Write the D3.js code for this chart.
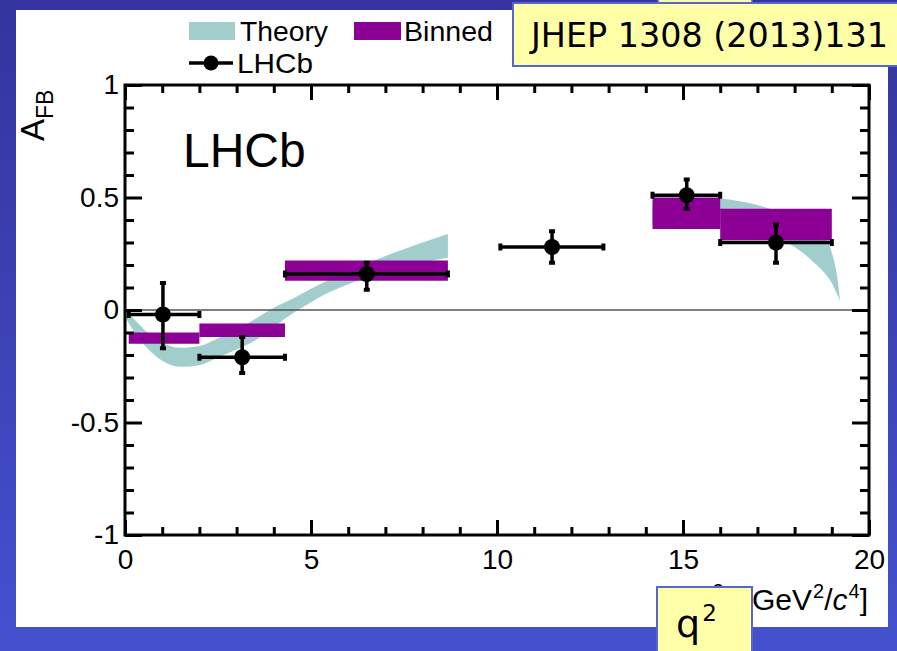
<!DOCTYPE html>
<html><head><meta charset="utf-8">
<script src="https://cdn.jsdelivr.net/npm/d3@7"></script>
<style>body{margin:0;overflow:hidden;background:#3a3ca6}</style>
</head><body>
<svg id="c" width="897" height="651"></svg>
<script>
// Measured forward-backward asymmetry per q² bin
const binLo = [0.1, 2.0, 4.3, 10.09, 14.18, 16.0];
const binHi = [2.0, 4.3, 8.68, 12.86, 16.0, 19.0];
const qMean = [1.02, 3.15, 6.5, 11.48, 15.1, 17.5];
const afb   = [-0.02, -0.21, 0.16, 0.28, 0.51, 0.30];
const errUp = [0.14, 0.09, 0.05, 0.07, 0.07, 0.08];
const errDn = [0.15, 0.07, 0.07, 0.07, 0.06, 0.09];

// Binned SM prediction (lower / upper edge of each bin)
const predLo  = [0.1, 2.0, 4.3, 14.18, 16.0];
const predHi  = [2.0, 4.3, 8.68, 16.0, 19.0];
const predMin = [-0.15, -0.12, 0.13, 0.36, 0.31];
const predMax = [-0.10, -0.06, 0.22, 0.50, 0.45];

// SM theory band below the charmonium region
const thLowQ   = [0.0, 0.3, 0.6, 1.0, 1.5, 2.0, 2.5, 3.0, 3.5, 4.0, 4.5, 5.0, 5.5, 6.0, 6.5, 7.0, 7.5, 8.0, 8.68];
const thLowMin = [-0.03, -0.11, -0.17, -0.225, -0.252, -0.245, -0.21, -0.175, -0.135, -0.075, -0.015, 0.035, 0.08, 0.115, 0.145, 0.17, 0.19, 0.21, 0.232];
const thLowMax = [0.0, -0.05, -0.10, -0.145, -0.168, -0.16, -0.125, -0.085, -0.04, 0.01, 0.05, 0.095, 0.135, 0.17, 0.205, 0.24, 0.27, 0.30, 0.338];

// SM theory band above the charmonium region
const thHighQ   = [14.18, 15.0, 16.0, 16.5, 17.0, 17.5, 18.0, 18.5, 18.9, 19.0, 19.1, 19.17, 19.22];
const thHighMin = [0.38, 0.39, 0.39, 0.375, 0.355, 0.325, 0.28, 0.215, 0.145, 0.12, 0.085, 0.06, 0.04];
const thHighMax = [0.47, 0.485, 0.495, 0.485, 0.467, 0.44, 0.40, 0.35, 0.30, 0.255, 0.19, 0.12, 0.04];

// Axis ticks
const xMajor = [0, 5, 10, 15, 20];
const yMajor = [-1, -0.5, 0, 0.5, 1];

const TEAL = "#a2cdcd", PURPLE = "#8c0096";
const SANS = "'Liberation Sans', Arial, Helvetica, sans-serif";
const SLIDE = "'DejaVu Sans', Verdana, Tahoma, sans-serif";

const svg = d3.select("#c");

// slide background
const defs = svg.append("defs");
const grad = defs.append("linearGradient").attr("id", "bg").attr("x1", 0).attr("y1", 0).attr("x2", 0).attr("y2", 1);
grad.append("stop").attr("offset", "0%").attr("stop-color", "#34349c");
grad.append("stop").attr("offset", "100%").attr("stop-color", "#4451cf");
svg.append("rect").attr("width", 897).attr("height", 651).attr("fill", "url(#bg)");
svg.append("rect").attr("x", 16).attr("y", 10).attr("width", 872).attr("height", 617).attr("fill", "#fff");

const x = d3.scaleLinear().domain([0, 20]).range([125, 869]);
const y = d3.scaleLinear().domain([-1, 1]).range([535, 85]);

// theory bands
const band = d3.area().curve(d3.curveMonotoneX)
  .x(d => x(d[0])).y0(d => y(d[1])).y1(d => y(d[2]));
const lowBand = thLowQ.map((q, i) => [q, thLowMin[i], thLowMax[i]]);
const highBand = thHighQ.map((q, i) => [q, thHighMin[i], thHighMax[i]]);
svg.append("path").attr("d", band(lowBand)).attr("fill", TEAL);
svg.append("path").attr("d", band(highBand)).attr("fill", TEAL);

// binned prediction boxes
svg.append("g").selectAll("rect").data(predLo).join("rect")
  .attr("x", (d, i) => x(predLo[i]))
  .attr("width", (d, i) => x(predHi[i]) - x(predLo[i]))
  .attr("y", (d, i) => y(predMax[i]))
  .attr("height", (d, i) => y(predMin[i]) - y(predMax[i]))
  .attr("fill", PURPLE);

// zero line
svg.append("line").attr("x1", x(0)).attr("x2", x(20)).attr("y1", y(0)).attr("y2", y(0))
  .attr("stroke", "#555").attr("stroke-width", 1.6);

// data points with error bars
const pts = svg.append("g");
afb.forEach((v, i) => {
  const cx = x(qMean[i]), cy = y(v);
  const xl = x(binLo[i]), xr = x(binHi[i]);
  const yt = y(v + errUp[i]), yb = y(v - errDn[i]);
  pts.append("line").attr("x1", xl).attr("x2", xr).attr("y1", cy).attr("y2", cy)
    .attr("stroke", "#000").attr("stroke-width", 3.5);
  pts.append("line").attr("x1", cx).attr("x2", cx).attr("y1", yt).attr("y2", yb)
    .attr("stroke", "#000").attr("stroke-width", 3.5);
  // end caps
  [xl, xr].forEach(px => pts.append("rect").attr("x", px - 2).attr("y", cy - 3.5).attr("width", 4).attr("height", 7));
  [yt, yb].forEach(py => pts.append("rect").attr("x", cx - 3).attr("y", py - 2).attr("width", 6).attr("height", 4));
  pts.append("circle").attr("cx", cx).attr("cy", cy).attr("r", 8).attr("fill", "#000");
});

// axes
const fr = svg.append("g").attr("font-family", SANS);
function styleAxis(g) {
  g.select(".domain").remove();
  g.selectAll("line").attr("stroke", "#000").attr("stroke-width", 3);
  g.selectAll("text").attr("font-family", SANS).attr("font-size", 28).attr("fill", "#000");
}
const xMinor = d3.range(0, 21).filter(v => v % 5 !== 0);
const yMinor = d3.range(-10, 11).map(v => v / 10).filter(v => Math.abs(v * 2 - Math.round(v * 2)) > 1e-6);

fr.append("g").attr("transform", `translate(0,${y(-1)})`)
  .call(d3.axisBottom(x).tickValues(xMajor).tickSize(-15).tickPadding(14).tickFormat(d => String(d))).call(styleAxis);
fr.append("g").attr("transform", `translate(0,${y(-1)})`)
  .call(d3.axisBottom(x).tickValues(xMinor).tickSize(-8).tickFormat("")).call(styleAxis);
fr.append("g").attr("transform", `translate(0,${y(1)})`)
  .call(d3.axisTop(x).tickValues(xMajor).tickSize(-15).tickFormat("")).call(styleAxis);
fr.append("g").attr("transform", `translate(0,${y(1)})`)
  .call(d3.axisTop(x).tickValues(xMinor).tickSize(-8).tickFormat("")).call(styleAxis);
fr.append("g").attr("transform", `translate(${x(0)},0)`)
  .call(d3.axisLeft(y).tickValues(yMajor).tickSize(-17).tickPadding(6).tickFormat(d => String(d))).call(styleAxis);
fr.append("g").attr("transform", `translate(${x(0)},0)`)
  .call(d3.axisLeft(y).tickValues(yMinor).tickSize(-9).tickFormat("")).call(styleAxis);
fr.append("g").attr("transform", `translate(${x(20)},0)`)
  .call(d3.axisRight(y).tickValues(yMajor).tickSize(-17).tickFormat("")).call(styleAxis);
fr.append("g").attr("transform", `translate(${x(20)},0)`)
  .call(d3.axisRight(y).tickValues(yMinor).tickSize(-9).tickFormat("")).call(styleAxis);

fr.append("rect").attr("x", x(0)).attr("y", y(1)).attr("width", x(20) - x(0)).attr("height", y(-1) - y(1))
  .attr("fill", "none").attr("stroke", "#000").attr("stroke-width", 3);

// axis titles
const yt = svg.append("text").attr("transform", "translate(44,141) rotate(-90)")
  .attr("font-family", SANS).attr("font-size", 33).attr("fill", "#000");
yt.append("tspan").text("A");
yt.append("tspan").attr("font-size", 23).attr("dy", 9).text("FB");

const xt = svg.append("text").attr("x", 868).attr("y", 610).attr("text-anchor", "end")
  .attr("font-family", SANS).attr("font-size", 30).attr("fill", "#000");
xt.append("tspan").text("q");
xt.append("tspan").attr("font-size", 20).attr("dy", -12).attr("dx", 2).text("2");
xt.append("tspan").attr("dy", 12).attr("dx", 20).text("[GeV");
xt.append("tspan").attr("font-size", 20).attr("dy", -12).attr("dx", 1).text("2");
xt.append("tspan").attr("dy", 12).text("/");
xt.append("tspan").attr("font-style", "italic").text("c");
xt.append("tspan").attr("font-size", 20).attr("dy", -12).attr("dx", 1).text("4");
xt.append("tspan").attr("dy", 12).text("]");

// experiment label
svg.append("text").attr("x", 183).attr("y", 167).attr("font-family", SANS)
  .attr("font-size", 48).attr("fill", "#000").text("LHCb");

// legend
const lg = svg.append("g").attr("font-family", SANS).attr("font-size", 28).attr("fill", "#000");
lg.append("rect").attr("x", 189).attr("y", 22).attr("width", 46).attr("height", 18).attr("fill", TEAL);
lg.append("text").attr("x", 240).attr("y", 41).attr("textLength", 88).attr("lengthAdjust", "spacingAndGlyphs").text("Theory");
lg.append("rect").attr("x", 354).attr("y", 22).attr("width", 47).attr("height", 18).attr("fill", PURPLE);
lg.append("text").attr("x", 404).attr("y", 41).attr("textLength", 89).attr("lengthAdjust", "spacingAndGlyphs").text("Binned");
lg.append("line").attr("x1", 189).attr("x2", 233).attr("y1", 63).attr("y2", 63).attr("stroke", "#000").attr("stroke-width", 3.5);
lg.append("circle").attr("cx", 211).attr("cy", 63).attr("r", 7.5).attr("fill", "#000");
lg.append("text").attr("x", 237).attr("y", 73).attr("textLength", 76).attr("lengthAdjust", "spacingAndGlyphs").text("LHCb");

// slide annotations
svg.append("rect").attr("x", 658).attr("y", -10).attr("width", 94).attr("height", 13)
  .attr("fill", "#ffffa8").attr("stroke", "#5566cc").attr("stroke-width", 1.5);
svg.append("rect").attr("x", 513).attr("y", 3).attr("width", 400).attr("height", 63)
  .attr("fill", "#ffffa8").attr("stroke", "#5566cc").attr("stroke-width", 2);
svg.append("text").attr("x", 531).attr("y", 47).attr("font-family", SLIDE).attr("font-size", 33)
  .attr("textLength", 357).attr("lengthAdjust", "spacingAndGlyphs").attr("fill", "#000").text("JHEP 1308 (2013)131");

svg.append("rect").attr("x", 657).attr("y", 587).attr("width", 95).attr("height", 80)
  .attr("fill", "#ffffa8").attr("stroke", "#5566cc").attr("stroke-width", 2);
const qb = svg.append("text").attr("x", 676).attr("y", 637).attr("font-family", SLIDE)
  .attr("font-size", 38).attr("fill", "#000");
qb.append("tspan").text("q");
qb.append("tspan").attr("font-size", 23).attr("dy", -16).attr("dx", 2).text("2");
</script>
</body></html>
